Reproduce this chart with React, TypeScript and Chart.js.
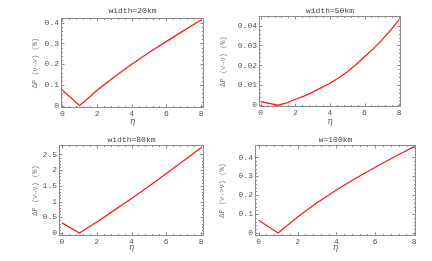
import React, { useEffect, useRef } from "react";
import { Chart, registerables } from "chart.js";
Chart.register(...registerables);

// ---- data ----
const ETA = [0, 1, 2, 3, 4, 5, 6, 7, 8];
const ETA_HALF = [0, 1, 1.5, 2, 2.5, 3, 3.5, 4, 4.5, 5, 5.5, 6, 6.5, 7, 7.5, 8];
const DP_20KM = [0.075, 0, 0.075, 0.14, 0.2, 0.256, 0.31, 0.362, 0.413];
const DP_50KM = [0.0018, 0, 0.0012, 0.003, 0.0046, 0.0066, 0.0088, 0.011, 0.0137, 0.0168, 0.0203, 0.0243, 0.0283, 0.0327, 0.0376, 0.043];
const DP_80KM = [0.32, 0, 0.35, 0.72, 1.1, 1.49, 1.89, 2.3, 2.71];
const DP_100KM = [0.067, 0, 0.085, 0.16, 0.228, 0.29, 0.348, 0.404, 0.457];
const X_TICKS = [0, 2, 4, 6, 8];
const Y_TICKS_20 = [0, 0.1, 0.2, 0.3, 0.4];
const Y_TICKS_50 = [0, 0.01, 0.02, 0.03, 0.04];
const Y_TICKS_80 = [0, 0.5, 1, 1.5, 2, 2.5];
const Y_TICKS_100 = [0, 0.1, 0.2, 0.3, 0.4];
const TITLES = ["width=20km", "width=50km", "width=80km", "w=100km"];
const Y_TITLES = ["ΔP (ν→ν) (%)", "ΔP (ν→ν) (%)", "ΔP (ν→ν) (%)", "ΔP (ν->ν) (%)"];
const X_TITLE = "η";

const MONO = "'Liberation Mono', 'DejaVu Sans Mono', monospace";

type Panel = {
  left: number; top: number; w: number; h: number;
  xs: number[]; ys: number[]; yTicks: number[];
  xMin: number; xMax: number; yMin: number; yMax: number;
  padTop: number; padRight: number; yW: number; xH: number;
  title: string; titleY: number; yTitle: string; yTitlePad: number; xTitlePad: number;
};

const PANELS: Panel[] = [
  { left: 0, top: 0, w: 216, h: 130, xs: ETA, ys: DP_20KM, yTicks: Y_TICKS_20,
    xMin: -0.08, xMax: 8.17, yMin: -0.011, yMax: 0.4226,
    padTop: 18, padRight: 12, yW: 61, xH: 22, title: TITLES[0], titleY: 11,
    yTitle: Y_TITLES[0], yTitlePad: 30.8, xTitlePad: 2.6 },
  { left: 216, top: 0, w: 216, h: 130, xs: ETA_HALF, ys: DP_50KM, yTicks: Y_TICKS_50,
    xMin: -0.1, xMax: 8.11, yMin: -0.0009, yMax: 0.0448,
    padTop: 16, padRight: 31, yW: 43, xH: 23, title: TITLES[1], titleY: 11,
    yTitle: Y_TITLES[1], yTitlePad: 2.8, xTitlePad: 2.6 },
  { left: 0, top: 130, w: 216, h: 131, xs: ETA, ys: DP_80KM, yTicks: Y_TICKS_80,
    xMin: -0.17, xMax: 8.17, yMin: -0.096, yMax: 2.8,
    padTop: 15, padRight: 12, yW: 59, xH: 25, title: TITLES[2], titleY: 9.5,
    yTitle: Y_TITLES[2], yTitlePad: 30.8, xTitlePad: 7.6 },
  { left: 216, top: 130, w: 216, h: 131, xs: ETA, ys: DP_100KM, yTicks: Y_TICKS_100,
    xMin: -0.19, xMax: 8.1, yMin: -0.016, yMax: 0.466,
    padTop: 15, padRight: 16, yW: 39, xH: 25, title: TITLES[3], titleY: 9.5,
    yTitle: Y_TITLES[3], yTitlePad: 1.8, xTitlePad: 7.6 },
];

const framePlugin = {
  id: "frame",
  afterDatasetsDraw(chart: any, _args: any, opts: any) {
    const { ctx, chartArea: a, scales } = chart;
    const L = Math.round(a.left) + 0.5, R = Math.round(a.right) - 0.5;
    const T = Math.round(a.top) + 0.5, B = Math.round(a.bottom) - 0.5;
    ctx.save();
    ctx.strokeStyle = "#8c8c8c";
    ctx.lineWidth = 1;
    ctx.strokeRect(L, T, R - L, B - T);
    const drawTicks = (scale: any, horiz: boolean) => {
      const vals = scale.ticks.map((t: any) => t.value);
      const marks: [number, number][] = [];
      for (let i = 0; i < vals.length; i++) {
        marks.push([vals[i], 3]);
        if (i < vals.length - 1) {
          const step = (vals[i + 1] - vals[i]) / 5;
          for (let k = 1; k < 5; k++) marks.push([vals[i] + k * step, 1.5]);
        }
      }
      ctx.beginPath();
      for (const [v, len] of marks) {
        const p = Math.round(scale.getPixelForValue(v)) + 0.5;
        if (horiz) {
          if (p < L || p > R) continue;
          ctx.moveTo(p, B); ctx.lineTo(p, B - len);
          ctx.moveTo(p, T); ctx.lineTo(p, T + len);
        } else {
          if (p < T || p > B) continue;
          ctx.moveTo(L, p); ctx.lineTo(L + len, p);
          ctx.moveTo(R, p); ctx.lineTo(R - len, p);
        }
      }
      ctx.stroke();
    };
    drawTicks(scales.x, true);
    drawTicks(scales.y, false);
    ctx.fillStyle = "#444";
    ctx.font = `8px ${MONO}`;
    ctx.textAlign = "center";
    ctx.textBaseline = "middle";
    ctx.fillText(opts.text, (a.left + a.right) / 2, opts.y);
    ctx.restore();
  },
};

function PanelChart({ p }: { p: Panel }) {
  const ref = useRef<HTMLCanvasElement>(null);
  useEffect(() => {
    const chart = new Chart(ref.current!, {
      type: "line",
      data: {
        datasets: [{
          data: p.xs.map((x, i) => ({ x, y: p.ys[i] })),
          borderColor: "#ff1a1a",
          borderWidth: 1.3,
          pointRadius: 0,
          tension: 0,
          fill: false,
        }],
      },
      options: {
        animation: false,
        responsive: false,
        events: [],
        layout: { padding: { top: p.padTop, right: p.padRight, left: 0, bottom: 0 } },
        plugins: {
          legend: { display: false },
          tooltip: { enabled: false },
          frame: { text: p.title, y: p.titleY },
        } as any,
        scales: {
          x: {
            type: "linear",
            min: p.xMin, max: p.xMax,
            grid: { display: false, drawTicks: false },
            border: { display: false },
            afterBuildTicks: (s: any) => { s.ticks = X_TICKS.map((v) => ({ value: v })); },
            afterFit: (s: any) => { s.height = p.xH; },
            ticks: {
              color: "#555", font: { family: MONO, size: 8 }, padding: 1, maxRotation: 0,
              callback: (v: any) => String(v),
            },
            title: {
              display: true, text: X_TITLE, color: "#666",
              font: { family: "'DejaVu Serif', serif", size: 9, style: "italic" },
              padding: { top: 0, bottom: p.xTitlePad },
            },
          },
          y: {
            type: "linear",
            min: p.yMin, max: p.yMax,
            grid: { display: false, drawTicks: false },
            border: { display: false },
            afterBuildTicks: (s: any) => { s.ticks = p.yTicks.map((v) => ({ value: v })); },
            afterFit: (s: any) => { s.width = p.yW; },
            ticks: {
              color: "#555", font: { family: MONO, size: 8 }, padding: 2,
              callback: (v: any) => String(v),
            },
            title: {
              display: true, text: p.yTitle, color: "#777",
              font: { family: MONO, size: 7 },
              padding: { top: p.yTitlePad, bottom: 0 },
            },
          },
        },
      },
      plugins: [framePlugin],
    });
    return () => chart.destroy();
  }, [p]);
  return (
    <canvas
      ref={ref}
      width={p.w}
      height={p.h}
      style={{ position: "absolute", left: p.left, top: p.top, width: p.w, height: p.h }}
    />
  );
}

export default function App() {
  return (
    <div style={{ position: "fixed", left: 0, top: 0, width: 432, height: 261, background: "#fff" }}>
      {PANELS.map((p, i) => <PanelChart key={i} p={p} />)}
    </div>
  );
}
